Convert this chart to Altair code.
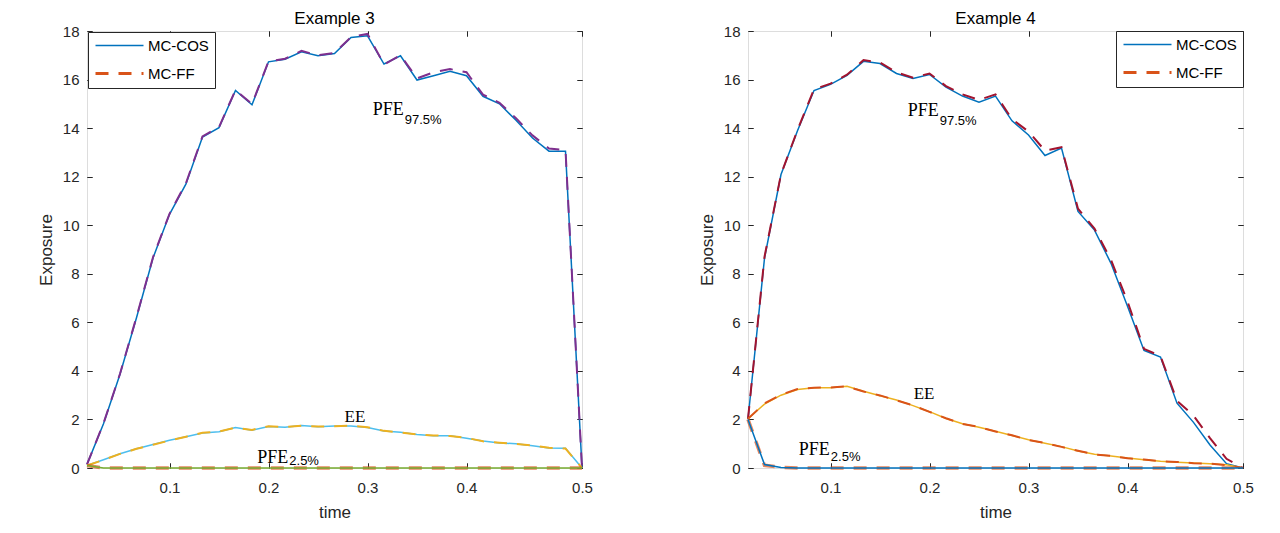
import altair as alt
import pandas as pd

# ---------------- data ----------------
steps = [1, 2, 3, 4, 5, 6, 7, 8, 9, 10, 11, 12, 13, 14, 15, 16,
         17, 18, 19, 20, 21, 22, 23, 24, 25, 26, 27, 28, 29, 30, 31]
x_tick_values = [6, 12, 18, 24, 31]
x_tick_labels = ["0.1", "0.2", "0.3", "0.4", "0.5"]
y_tick_values = [0, 2, 4, 6, 8, 10, 12, 14, 16, 18]
methods = ["MC-COS", "MC-FF"]

# Example 3
ex3_pfe975_cos = [0.15, 1.82, 3.86, 6.19, 8.65, 10.45, 11.70, 13.63, 14.02, 15.55, 14.96,
                  16.73, 16.84, 17.14, 16.98, 17.07, 17.73, 17.80, 16.64, 16.98, 15.98,
                  16.16, 16.34, 16.16, 15.31, 15.00, 14.32, 13.59, 13.05, 13.05, 0.0]
ex3_pfe975_ff = [0.15, 1.84, 3.88, 6.22, 8.68, 10.47, 11.74, 13.66, 14.04, 15.57, 14.99,
                 16.75, 16.86, 17.18, 17.00, 17.10, 17.75, 17.88, 16.62, 17.00, 16.05,
                 16.30, 16.43, 16.30, 15.38, 15.04, 14.41, 13.70, 13.16, 13.09, 0.0]
ex3_ee_cos = [0.10, 0.34, 0.59, 0.79, 0.97, 1.14, 1.29, 1.44, 1.49, 1.67, 1.56,
              1.71, 1.68, 1.75, 1.70, 1.73, 1.73, 1.67, 1.52, 1.47, 1.38,
              1.33, 1.33, 1.23, 1.11, 1.03, 1.00, 0.92, 0.82, 0.81, 0.0]
ex3_ee_ff = [0.10, 0.33, 0.58, 0.79, 0.96, 1.13, 1.29, 1.45, 1.50, 1.66, 1.57,
             1.72, 1.69, 1.74, 1.71, 1.72, 1.74, 1.68, 1.53, 1.46, 1.38,
             1.34, 1.32, 1.24, 1.10, 1.04, 0.99, 0.93, 0.83, 0.80, 0.0]
ex3_pfe025_cos = [0.10, 0.0, 0.0, 0.0, 0.0, 0.0, 0.0, 0.0, 0.0, 0.0, 0.0,
                  0.0, 0.0, 0.0, 0.0, 0.0, 0.0, 0.0, 0.0, 0.0, 0.0,
                  0.0, 0.0, 0.0, 0.0, 0.0, 0.0, 0.0, 0.0, 0.0, 0.0]
ex3_pfe025_ff = [0.10, 0.0, 0.0, 0.0, 0.0, 0.0, 0.0, 0.0, 0.0, 0.0, 0.0,
                 0.0, 0.0, 0.0, 0.0, 0.0, 0.0, 0.0, 0.0, 0.0, 0.0,
                 0.0, 0.0, 0.0, 0.0, 0.0, 0.0, 0.0, 0.0, 0.0, 0.0]

# Example 4
ex4_pfe975_cos = [2.02, 8.64, 12.09, 13.89, 15.55, 15.80, 16.17, 16.75, 16.66, 16.25, 16.04,
                  16.21, 15.69, 15.32, 15.07, 15.32, 14.30, 13.72, 12.87, 13.18, 10.57,
                  9.80, 8.43, 6.66, 4.84, 4.57, 2.67, 1.88, 0.95, 0.18, 0.0]
ex4_pfe975_ff = [2.02, 8.70, 12.10, 13.92, 15.60, 15.83, 16.20, 16.80, 16.70, 16.30, 16.08,
                 16.25, 15.73, 15.39, 15.16, 15.39, 14.37, 13.86, 13.07, 13.21, 10.68,
                 9.86, 8.57, 6.86, 4.91, 4.61, 2.77, 2.16, 1.23, 0.38, 0.0]
ex4_ee_cos = [2.03, 2.63, 3.00, 3.23, 3.31, 3.31, 3.37, 3.16, 2.98, 2.80, 2.57,
              2.32, 2.04, 1.82, 1.68, 1.51, 1.34, 1.16, 1.02, 0.88, 0.70,
              0.57, 0.49, 0.41, 0.34, 0.28, 0.24, 0.21, 0.18, 0.13, 0.0]
ex4_ee_ff = [2.03, 2.66, 3.02, 3.25, 3.31, 3.32, 3.36, 3.15, 2.99, 2.79, 2.58,
             2.31, 2.05, 1.81, 1.69, 1.50, 1.35, 1.15, 1.03, 0.87, 0.71,
             0.56, 0.50, 0.40, 0.35, 0.28, 0.25, 0.20, 0.18, 0.12, 0.0]
ex4_pfe025_cos = [2.00, 0.14, 0.02, 0.0, 0.0, 0.0, 0.0, 0.0, 0.0, 0.0, 0.0,
                  0.0, 0.0, 0.0, 0.0, 0.0, 0.0, 0.0, 0.0, 0.0, 0.0,
                  0.0, 0.0, 0.0, 0.0, 0.0, 0.0, 0.0, 0.0, 0.0, 0.0]
ex4_pfe025_ff = [2.00, 0.11, 0.03, 0.0, 0.0, 0.0, 0.0, 0.0, 0.0, 0.0, 0.0,
                 0.0, 0.0, 0.0, 0.0, 0.0, 0.0, 0.0, 0.0, 0.0, 0.0,
                 0.0, 0.0, 0.0, 0.0, 0.0, 0.0, 0.0, 0.0, 0.0, 0.0]

# annotation texts: (step, value, text)
ex3_main_labels = [(20.2, 14.55, "PFE"), (17.24, 1.90, "EE"), (13.2, 0.21, "PFE")]
ex3_sub_labels = [(20.2, 14.18, "97.5%"), (13.2, 0.115, "2.5%")]
ex4_main_labels = [(12.56, 14.49, "PFE"), (11.67, 2.85, "EE"), (5.96, 0.53, "PFE")]
ex4_sub_labels = [(12.56, 14.11, "97.5%"), (5.96, 0.30, "2.5%")]

# ---------------- styling ----------------
BLUE, ORANGE, YELLOW, PURPLE = "#0072BD", "#D95319", "#EDB120", "#7E2F8E"
GREEN, LIGHTBLUE, DARKRED = "#77AC30", "#4DBEEE", "#A2142F"
AX = "#262626"
SANS = "Liberation Sans"
SERIF = "Liberation Serif"
W, H = 495, 437
DASH = [13, 10]
TK = 5  # inner tick length

label_expr = " : ".join(
    f"datum.value == {v} ? '{l}'" for v, l in zip(x_tick_values, x_tick_labels)
) + " : ''"

X_SCALE = dict(domain=[steps[0], steps[-1]], nice=False, zero=False)
Y_SCALE = dict(domain=[0, 18], nice=False, zero=True)
GRID_X = dict(grid=True, gridColor=AX, gridWidth=1, gridOpacity=1,
              gridDash=[TK, H - 2 * TK, TK, 0])
GRID_Y = dict(grid=True, gridColor=AX, gridWidth=1, gridOpacity=1,
              gridDash=[TK, W - 2 * TK, TK, 0])


def x_enc():
    return alt.X(
        "step:Q", scale=alt.Scale(**X_SCALE),
        axis=alt.Axis(
            orient="bottom", title="time", values=x_tick_values, labelExpr=label_expr,
            ticks=False, domain=False, labelFlush=False,
            labelFont=SANS, labelFontSize=15, labelColor=AX, labelPadding=12,
            titleFont=SANS, titleFontSize=17, titleFontWeight="normal",
            titleColor=AX, titlePadding=9, labelOverlap=False, **GRID_X,
        ),
    )


def y_enc():
    return alt.Y(
        "value:Q", scale=alt.Scale(**Y_SCALE),
        axis=alt.Axis(
            orient="left", title="Exposure", values=y_tick_values, format="d",
            ticks=False, domain=False, labelFlush=False,
            labelFont=SANS, labelFontSize=15, labelColor=AX, labelPadding=8,
            titleFont=SANS, titleFontSize=17, titleFontWeight="normal",
            titleColor=AX, titlePadding=7, labelOverlap=False, **GRID_Y,
        ),
    )


def tick_layer(values):
    # second (opposite-side) axes, used only for the inward tick marks
    df = pd.DataFrame({"step": steps, "value": values})
    return alt.Chart(df).mark_line(opacity=0).encode(
        x=alt.X("step:Q", scale=alt.Scale(**X_SCALE),
                axis=alt.Axis(orient="top", title=None, labels=False, ticks=False,
                              domain=False, values=x_tick_values, **GRID_X)),
        y=alt.Y("value:Q", scale=alt.Scale(**Y_SCALE),
                axis=alt.Axis(orient="right", title=None, labels=False, ticks=False,
                              domain=False, values=y_tick_values, **GRID_Y)),
    )


def series_layer(values, color, dashed, width=None, opacity=1.0):
    df = pd.DataFrame({"step": steps, "value": values})
    if width is None:
        width = 2.0 if dashed else 1.5
    kw = dict(color=color, strokeWidth=width, opacity=opacity, clip=False)
    if dashed:
        kw["strokeDash"] = DASH
    return alt.Chart(df).mark_line(**kw).encode(x=x_enc(), y=y_enc())


def legend_layer(cos_vals, ff_vals, orient, offset):
    df = pd.DataFrame({
        "step": steps + steps,
        "value": cos_vals + ff_vals,
        "method": [methods[0]] * len(steps) + [methods[1]] * len(steps),
    })
    leg = alt.Legend(
        title=None, orient=orient, offset=offset, symbolType="stroke",
        symbolSize=2304, clipHeight=15, rowPadding=12, padding=6,
        labelFont=SANS, labelFontSize=15, labelColor="#000", labelOffset=3,
        strokeColor=AX, fillColor="white", symbolOpacity=1,
        cornerRadius=0,
    )
    return alt.Chart(df).mark_line(opacity=0).encode(
        x=x_enc(), y=y_enc(),
        color=alt.Color("method:N", scale=alt.Scale(domain=methods, range=[BLUE, ORANGE]), legend=leg),
        strokeDash=alt.StrokeDash("method:N", scale=alt.Scale(domain=methods, range=[[1, 0], DASH]), legend=leg),
        strokeWidth=alt.StrokeWidth("method:N", scale=alt.Scale(domain=methods, range=[1.5, 3.0]), legend=leg),
    )


def text_layers(main_labels, sub_labels):
    mdf = pd.DataFrame(main_labels, columns=["step", "value", "text"])
    sdf = pd.DataFrame(sub_labels, columns=["step", "value", "text"])
    main_pfe = mdf[mdf["text"] == "PFE"]
    main_ee = mdf[mdf["text"] != "PFE"]
    t1 = alt.Chart(main_pfe).mark_text(
        align="right", baseline="alphabetic", font=SERIF, fontSize=18, color="#000"
    ).encode(x=x_enc(), y=y_enc(), text="text:N")
    t2 = alt.Chart(main_ee).mark_text(
        align="center", baseline="alphabetic", font=SERIF, fontSize=17, color="#000"
    ).encode(x=x_enc(), y=y_enc(), text="text:N")
    t3 = alt.Chart(sdf).mark_text(
        align="left", baseline="alphabetic", font=SANS, fontSize=13, color="#000", dx=1
    ).encode(x=x_enc(), y=y_enc(), text="text:N")
    return [t1, t2, t3]


def title(t):
    return alt.Title(t, font=SANS, fontSize=17, fontWeight="normal", color="#000",
                     offset=-4, anchor="middle")


left_main = alt.layer(
    legend_layer(ex3_pfe975_cos, ex3_pfe975_ff, "top-left", 1),
    series_layer(ex3_pfe975_cos, BLUE, False),
    series_layer(ex3_pfe975_ff, PURPLE, True),
    series_layer(ex3_ee_cos, LIGHTBLUE, False),
    series_layer(ex3_ee_ff, YELLOW, True),
    series_layer(ex3_pfe025_ff, ORANGE, True, 3.5, 0.7),
    series_layer(ex3_pfe025_cos, GREEN, False),
    *text_layers(ex3_main_labels, ex3_sub_labels),
)
left = alt.layer(left_main, tick_layer(ex3_ee_cos)).resolve_axis(
    x="independent", y="independent"
).properties(width=W, height=H, title=title("Example 3"))

right_main = alt.layer(
    legend_layer(ex4_pfe975_cos, ex4_pfe975_ff, "top-right", 0),
    series_layer(ex4_pfe975_cos, BLUE, False),
    series_layer(ex4_pfe975_ff, DARKRED, True),
    series_layer(ex4_ee_cos, YELLOW, False),
    series_layer(ex4_ee_ff, ORANGE, True),
    series_layer(ex4_pfe025_ff, ORANGE, True, 3.5, 0.7),
    series_layer(ex4_pfe025_cos, BLUE, False),
    *text_layers(ex4_main_labels, ex4_sub_labels),
)
right = alt.layer(right_main, tick_layer(ex4_ee_cos)).resolve_axis(
    x="independent", y="independent"
).properties(width=W, height=H, title=title("Example 4"))

chart = alt.hconcat(left, right, spacing=104).resolve_scale(
    color="independent", strokeDash="independent", strokeWidth="independent"
).properties(
    padding={"left": 28, "top": 1, "right": 5, "bottom": 5}
).configure_view(
    stroke=AX, strokeWidth=1
).configure(background="white")

chart.save("out.html", embed_options={"renderer": "svg", "actions": False})
